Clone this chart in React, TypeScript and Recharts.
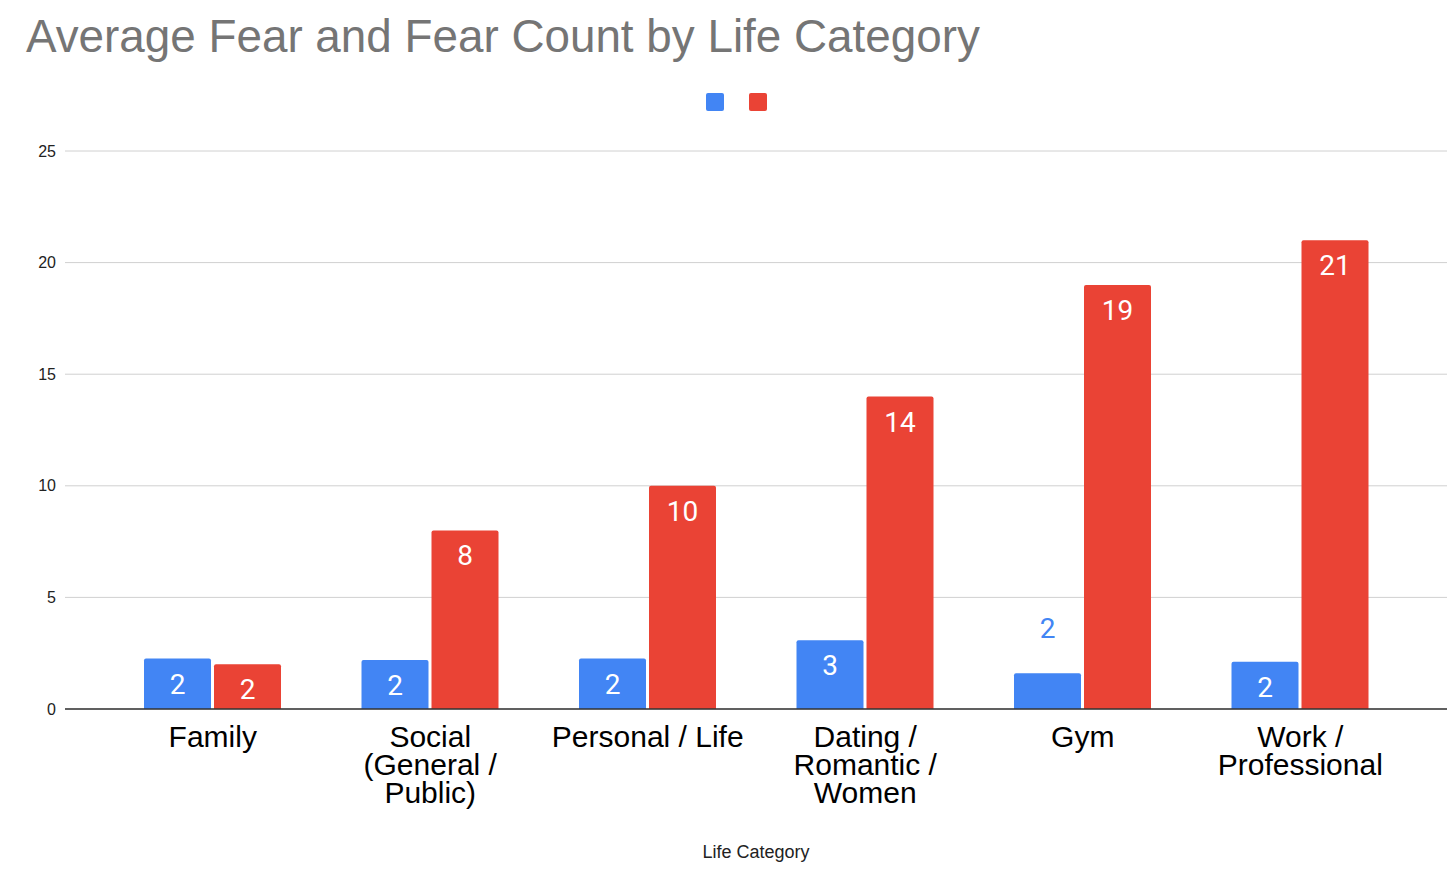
import React from 'react';
import { BarChart, Bar, XAxis, YAxis, CartesianGrid, Legend, LabelList } from 'recharts';

const categories = [
  'Family',
  'Social (General / Public)',
  'Personal / Life',
  'Dating / Romantic / Women',
  'Gym',
  'Work / Professional',
];
const categoryLines = [
  ['Family'],
  ['Social', '(General /', 'Public)'],
  ['Personal / Life'],
  ['Dating /', 'Romantic /', 'Women'],
  ['Gym'],
  ['Work /', 'Professional'],
];
const averageFear = [2.26, 2.2, 2.26, 3.08, 1.6, 2.12];
const fearCount = [2, 8, 10, 14, 19, 21];
const yTicks = [0, 5, 10, 15, 20, 25];

const BLUE = '#4285F4';
const RED = '#EA4335';
const AXIS_FONT = '"Liberation Sans", Arial, Helvetica, sans-serif';

const data = categories.map((c, i) => ({
  category: c,
  averageFear: averageFear[i],
  fearCount: fearCount[i],
}));

const CategoryTick = (props: any) => {
  const { x, y, payload } = props;
  const idx = categories.indexOf(payload.value);
  const lines = idx >= 0 ? categoryLines[idx] : [String(payload.value)];
  return (
    <g>
      {lines.map((line, i) => (
        <text
          key={i}
          x={x}
          y={y + 38 + i * 28}
          textAnchor="middle"
          fontFamily={AXIS_FONT}
          fontSize={30}
          fill="#000"
        >
          {line}
        </text>
      ))}
    </g>
  );
};

const makeBarLabel = (color: string) => (props: any) => {
  const { x, y, width, height, value } = props;
  const inside = height >= 40;
  return (
    <text
      x={x + width / 2}
      y={inside ? y + 35 : y - 35}
      textAnchor="middle"
      fontFamily="Roboto, 'Noto Sans', sans-serif"
      fontSize={28}
      fill={inside ? '#ffffff' : color}
    >
      {Math.round(Number(value))}
    </text>
  );
};

const LegendSquares = () => (
  <div style={{ position: 'relative', width: 1456, height: 18 }}>
    <div style={{ position: 'absolute', left: 706, top: 0, width: 18, height: 18, background: BLUE, borderRadius: 2 }} />
    <div style={{ position: 'absolute', left: 749, top: 0, width: 18, height: 18, background: RED, borderRadius: 2 }} />
  </div>
);

const AxisTitle = (props: any) => {
  const vb = props.viewBox || {};
  return (
    <text
      x={vb.x + vb.width / 2}
      y={vb.y + 149}
      textAnchor="middle"
      fontFamily={AXIS_FONT}
      fontSize={18}
      fill="#222"
    >
      Life Category
    </text>
  );
};

export default function App() {
  return (
    <div style={{ position: 'absolute', left: 0, top: 0, width: 1456, height: 873, background: '#fff' }}>
      <svg width={1456} height={80} style={{ position: 'absolute', left: 0, top: 0 }}>
        <text x={26} y={52} fontFamily={AXIS_FONT} fontSize={45.8} fill="#757575">
          Average Fear and Fear Count by Life Category
        </text>
      </svg>
      <BarChart
        width={1456}
        height={873}
        data={data}
        margin={{ top: 133, right: 9, bottom: 0, left: 0 }}
        barCategoryGap={40}
        barGap={3}
      >
        <CartesianGrid vertical={false} stroke="#d0d0d0" />
        <Legend
          verticalAlign="top"
          content={() => <LegendSquares />}
          wrapperStyle={{ position: 'absolute', top: 93, left: 0, width: 1456, height: 18 }}
        />
        <XAxis
          dataKey="category"
          height={164}
          tickLine={false}
          tickSize={0}
          tickMargin={0}
          interval={0}
          axisLine={{ stroke: '#333', strokeWidth: 1.3 }}
          padding={{ left: 39, right: 38 }}
          tick={<CategoryTick />}
          label={<AxisTitle />}
        />
        <YAxis
          width={65}
          domain={[0, 25]}
          ticks={yTicks}
          interval={0}
          axisLine={false}
          tickLine={false}
          tickSize={0}
          tickMargin={9}
          tick={{ fontFamily: AXIS_FONT, fontSize: 16, fill: '#222' }}
        />
        <Bar dataKey="averageFear" fill={BLUE} barSize={67} radius={[2, 2, 0, 0]} isAnimationActive={false}>
          <LabelList dataKey="averageFear" content={makeBarLabel(BLUE)} />
        </Bar>
        <Bar dataKey="fearCount" fill={RED} barSize={67} radius={[2, 2, 0, 0]} isAnimationActive={false}>
          <LabelList dataKey="fearCount" content={makeBarLabel(RED)} />
        </Bar>
      </BarChart>
    </div>
  );
}
